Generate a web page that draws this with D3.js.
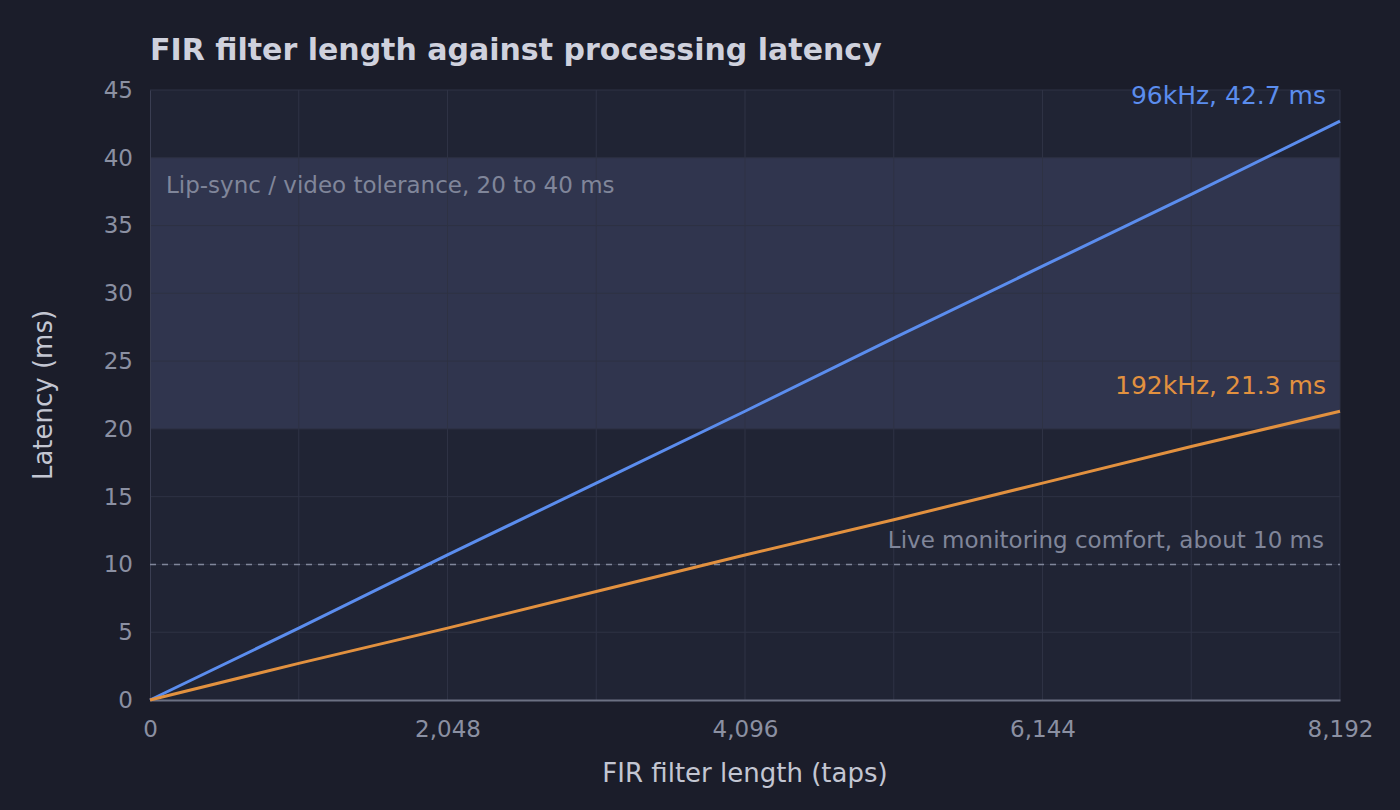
<!DOCTYPE html>
<html lang="en">
<head>
    <meta charset="UTF-8">
    <title>FIR filter length against processing latency</title>
    <script src="https://d3js.org/d3.v7.min.js"></script>
    <style>
        html, body {
            margin: 0;
            padding: 0;
            background: #1b1d2a;
        }
        svg {
            display: block;
            font-family: 'DejaVu Sans', sans-serif;
        }
    </style>
</head>
<body>
<div class="content"></div>
<script>
    // filter length in taps, one point per 1024 taps
    const taps = [0, 1024, 2048, 3072, 4096, 5120, 6144, 7168, 8192];
    // latency (ms)
    const lat96 = [0, 5.3, 10.7, 16.0, 21.3, 26.7, 32.0, 37.3, 42.7];
    const lat192 = [0, 2.7, 5.3, 8.0, 10.7, 13.3, 16.0, 18.7, 21.3];
    const seriesNames = ["96kHz, 42.7 ms", "192kHz, 21.3 ms"];
    const xTickLabels = [0, 2048, 4096, 6144, 8192];
    const yTickLabels = [0, 5, 10, 15, 20, 25, 30, 35, 40, 45];
    const band = [20, 40];
    const liveLimit = 10;

    const w = 1400;
    const h = 810;
    const margin = { top: 90, right: 60, bottom: 110, left: 150 };

    const svg = d3.select(".content")
        .append("svg")
        .attr("width", w)
        .attr("height", h);

    const x = d3.scaleLinear()
        .domain([0, 8192])
        .range([margin.left, w - margin.right]);

    const y = d3.scaleLinear()
        .domain([0, 45])
        .range([h - margin.bottom, margin.top]);

    // plot background
    svg.append("rect")
        .attr("x", x(0))
        .attr("y", y(45))
        .attr("width", x(8192) - x(0))
        .attr("height", y(0) - y(45))
        .attr("fill", "#202434");

    // tolerance band
    svg.append("rect")
        .attr("x", x(0))
        .attr("y", y(band[1]))
        .attr("width", x(8192) - x(0))
        .attr("height", y(band[0]) - y(band[1]))
        .attr("fill", "#30354e");

    // grid
    svg.append("g")
        .selectAll("line")
        .data(taps.slice(1))
        .enter()
        .append("line")
        .attr("x1", d => x(d))
        .attr("x2", d => x(d))
        .attr("y1", y(0))
        .attr("y2", y(45))
        .attr("stroke", "#2e3244")
        .attr("stroke-width", 1);

    svg.append("g")
        .selectAll("line")
        .data(yTickLabels.slice(1))
        .enter()
        .append("line")
        .attr("x1", x(0))
        .attr("x2", x(8192))
        .attr("y1", d => y(d))
        .attr("y2", d => y(d))
        .attr("stroke", "#2e3244")
        .attr("stroke-width", 1);

    // axes
    const xAxis = svg.append("g")
        .attr("transform", `translate(0,${y(0)})`)
        .call(d3.axisBottom(x).tickValues(xTickLabels).tickSize(0).tickPadding(21).tickFormat(d3.format(",")));
    xAxis.select(".domain").attr("stroke", "#6c7183").attr("stroke-width", 2);
    xAxis.selectAll("text").attr("fill", "#8b90a2").attr("font-size", "23px").attr("font-family", "DejaVu Sans");

    const yAxis = svg.append("g")
        .attr("transform", `translate(${x(0)},0)`)
        .call(d3.axisLeft(y).tickValues(yTickLabels).tickSize(0).tickPadding(17));
    yAxis.select(".domain").attr("stroke", "#3a3e52").attr("stroke-width", 1);
    yAxis.selectAll("text").attr("fill", "#8b90a2").attr("font-size", "23px").attr("font-family", "DejaVu Sans");

    // live monitoring line
    svg.append("line")
        .attr("x1", x(0))
        .attr("x2", x(8192))
        .attr("y1", y(liveLimit))
        .attr("y2", y(liveLimit))
        .attr("stroke", "#80869a")
        .attr("stroke-width", 1.5)
        .attr("stroke-dasharray", "6,6");

    svg.append("text")
        .text("Live monitoring comfort, about 10 ms")
        .attr("x", x(8192) - 16)
        .attr("y", y(liveLimit) - 16)
        .attr("text-anchor", "end")
        .attr("fill", "#80869a")
        .attr("font-size", "23px");

    svg.append("text")
        .text("Lip-sync / video tolerance, 20 to 40 ms")
        .attr("x", x(0) + 16)
        .attr("y", y(band[1]) + 35)
        .attr("fill", "#80869a")
        .attr("font-size", "23px");

    // series
    const line = d3.line()
        .x((d, i) => x(taps[i]))
        .y(d => y(d));

    const colors = ["#5b8dee", "#e2913f"];
    [lat96, lat192].forEach((s, k) => {
        svg.append("path")
            .datum(s)
            .attr("d", line)
            .attr("fill", "none")
            .attr("stroke", colors[k])
            .attr("stroke-width", 3);

        svg.append("text")
            .text(seriesNames[k])
            .attr("x", x(8192) - 14)
            .attr("y", y(s[s.length - 1]) - 17)
            .attr("text-anchor", "end")
            .attr("fill", colors[k])
            .attr("font-size", "25px");
    });

    // title and axis titles
    svg.append("text")
        .text("FIR filter length against processing latency")
        .attr("x", margin.left)
        .attr("y", 60)
        .attr("fill", "#cfd1dd")
        .attr("font-size", "30px")
        .attr("font-weight", "bold");

    svg.append("text")
        .text("FIR filter length (taps)")
        .attr("x", (x(0) + x(8192)) / 2)
        .attr("y", 782)
        .attr("text-anchor", "middle")
        .attr("fill", "#c3c6d2")
        .attr("font-size", "26px");

    svg.append("text")
        .text("Latency (ms)")
        .attr("transform", `translate(52,${(y(0) + y(45)) / 2}) rotate(-90)`)
        .attr("text-anchor", "middle")
        .attr("fill", "#c3c6d2")
        .attr("font-size", "26px");
</script>
</body>
</html>
